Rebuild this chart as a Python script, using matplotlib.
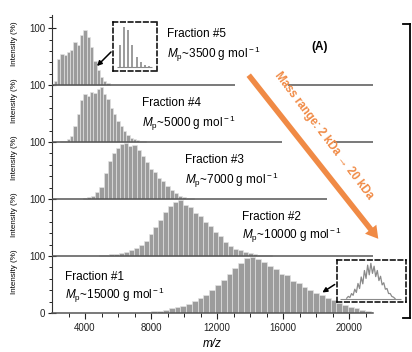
import numpy as np
import matplotlib
matplotlib.use("Agg")
import matplotlib.pyplot as plt
from matplotlib.patches import FancyArrowPatch
from matplotlib.lines import Line2D

plt.rcParams['font.family'] = ['Liberation Sans', 'DejaVu Sans']
plt.rcParams['mathtext.fontset'] = 'custom'
plt.rcParams['mathtext.rm'] = 'Liberation Sans'
plt.rcParams['mathtext.it'] = 'Liberation Sans:italic'

# spectra: start m/z, step, intensities (%)
f5_start, f5_step = 2200, 200
f5_int = [8, 45, 55, 53, 58, 62, 75, 70, 88, 97, 84, 66, 42, 26, 14, 8, 3]

f4_start, f4_step = 2600, 200
f4_int = [1, 2, 5, 11, 28, 50, 74, 85, 80, 88, 86, 94, 96, 84, 75, 60, 50, 37,
          29, 19, 12, 8, 5, 3, 2, 1]

f3_start, f3_step = 4000, 250
f3_int = [1, 3, 6, 12, 22, 46, 66, 80, 90, 96, 98, 93, 95, 86, 75, 65, 53, 47,
          37, 31, 23, 16, 10, 6, 4, 2, 1]

f2_start, f2_step = 5000, 300
f2_int = [2, 2, 3, 3, 5, 7, 10, 14, 19, 27, 38, 51, 64, 77, 88, 95, 98, 90, 86,
          76, 70, 60, 53, 42, 36, 25, 18, 13, 10, 7, 5, 3, 2, 1, 1]

f1_start, f1_step = 7500, 350
f1_int = [2, 2, 3, 4, 6, 8, 10, 12, 16, 21, 26, 32, 40, 50, 58, 69, 79, 88, 96,
          99, 95, 90, 82, 77, 69, 66, 57, 52, 45, 41, 35, 31, 26, 23, 18, 14, 11,
          8, 6, 4, 2]

fractions = ['Fraction #1', 'Fraction #2', 'Fraction #3', 'Fraction #4', 'Fraction #5']
mp_values = ['15000', '10000', '7000', '5000', '3500']

# zoomed insets
inset_top = [55, 100, 92, 55, 26, 14, 6, 3]
inset_bottom = [3, 8, 5, 16, 11, 28, 19, 44, 30, 62, 43, 80, 58, 95, 68, 100, 72,
                92, 63, 80, 52, 64, 40, 46, 28, 30, 16, 16, 8, 6, 2]

W, H = 412, 352


def fx(x):
    return x / W


def fy(y):
    return 1 - y / H


fig = plt.figure(figsize=(W / 100, H / 100), dpi=100)
ax = fig.add_axes([fx(52), fy(313), (373 - 52) / W, (313 - 15) / H])

spectra = [(f1_start, f1_step, f1_int), (f2_start, f2_step, f2_int),
           (f3_start, f3_step, f3_int), (f4_start, f4_step, f4_int),
           (f5_start, f5_step, f5_int)]
for i, (start, step, ints) in enumerate(spectra):
    mz = start + step * np.arange(len(ints))
    ax.bar(mz, np.array(ints) / 100, width=step, bottom=i, color='#9c9c9c',
           edgecolor='#e4e4e4', linewidth=0.45, align='center', zorder=2)

# panel baselines (broken where the orange arrow passes)
lc = '#555555'
ax.hlines(1, 2000, 21450, color=lc, lw=1.1, zorder=3)
ax.hlines(2, 2000, 18650, color=lc, lw=1.1, zorder=3)
ax.hlines(3, 2000, 15950, color=lc, lw=1.1, zorder=3)
ax.hlines(3, 19100, 21450, color=lc, lw=1.1, zorder=3)
ax.hlines(4, 2000, 13100, color=lc, lw=1.1, zorder=3)
ax.hlines(4, 16300, 21450, color=lc, lw=1.1, zorder=3)

ax.set_xlim(2000, 21450)
ax.set_ylim(0, 5.23)
ax.set_xticks([4000, 8000, 12000, 16000, 20000])
ax.set_xticks(np.arange(3000, 21001, 1000), minor=True)
ax.set_yticks([0, 1, 2, 3, 4, 5])
ax.set_yticklabels(['0', '100', '100', '100', '100', '100'])
ax.set_yticks(np.arange(0, 5.21, 0.2), minor=True)
ax.tick_params(axis='both', labelsize=7, colors='#222222')
ax.tick_params(axis='y', which='major', direction='inout', length=6, pad=2)
ax.tick_params(axis='y', which='minor', direction='out', length=2.5)
ax.tick_params(axis='x', which='major', direction='out', length=4, pad=3)
ax.tick_params(axis='x', which='minor', direction='out', length=3)
for s in ['top', 'right']:
    ax.spines[s].set_visible(False)
ax.spines['left'].set_color('#333333')
ax.spines['bottom'].set_color('#555555')
ax.spines['bottom'].set_linewidth(1.1)
ax.set_xlabel('m/z', fontsize=8.5, style='italic', labelpad=4)

for i in range(5):
    ax.text(-0.118, (i + 0.72) / 5.23, 'Intensity (%)', transform=ax.transAxes,
            rotation=90, ha='center', va='center', fontsize=5.8)

# labels
label_pos = [(65, 277, 295), (242, 217, 235), (185, 160, 180), (142, 103, 123), (167, 34, 54)]
for (x, y1, y2), name, mp in zip(label_pos, fractions, mp_values):
    fig.text(fx(x), fy(y1), name, fontsize=8.5, ha='left', va='center')
    fig.text(fx(x), fy(y2), r'$M_{\rm p}$~' + mp + r' g mol$^{\rm -1}$',
             fontsize=8.5, ha='left', va='center')

fig.text(fx(320), fy(47), '(A)', fontsize=8.5, weight='bold', ha='center', va='center')

# orange arrow with text
orange = '#f08a45'
fig.add_artist(FancyArrowPatch((fx(247), fy(73)), (fx(380), fy(241)),
                               transform=fig.transFigure, color=orange, lw=0,
                               arrowstyle='simple,head_width=1.3,head_length=1.1,tail_width=0.5',
                               mutation_scale=8))
fig.text(fx(324), fy(136), 'Mass range: 2 kDa \u2192 20 kDa', color=orange,
         fontsize=8.3, weight='bold', rotation=-53, rotation_mode='anchor',
         ha='center', va='center')

# insets
ins1 = fig.add_axes([fx(113), fy(71), 44 / W, 49 / H])
ins1.vlines(np.arange(len(inset_top)), 0, inset_top, color='#8a8a8a', lw=1.2)
ins1.hlines(0, -0.8, len(inset_top) - 0.2, color='#8a8a8a', lw=0.8)
ins1.set_xlim(-1.69, 8.93)
ins1.set_ylim(-9.2, 111.6)

ins2 = fig.add_axes([fx(336.7), fy(301.7), 69.3 / W, 41.7 / H])
ins2.plot(np.arange(len(inset_bottom)), inset_bottom, color='#8a8a8a', lw=0.9)
ins2.hlines(0, -4, len(inset_bottom) + 3, color='#8a8a8a', lw=0.8)
ins2.set_xlim(-6.2, 36.8)
ins2.set_ylim(-6.7, 109.2)

for a in (ins1, ins2):
    a.set_xticks([])
    a.set_yticks([])
    a.patch.set_alpha(0)
    for s in a.spines.values():
        s.set_linestyle((0, (3, 2)))
        s.set_linewidth(1.1)

# black pointer arrows
for start, end in [((113, 50), (95, 68)), ((337, 283), (320, 294))]:
    fig.add_artist(FancyArrowPatch((fx(start[0]), fy(start[1])), (fx(end[0]), fy(end[1])),
                                   transform=fig.transFigure, color='black', lw=1.1,
                                   arrowstyle='-|>', mutation_scale=7))

# right bracket
fig.add_artist(Line2D([fx(410), fx(410)], [fy(24), fy(318)], color='black', lw=1.3))
fig.add_artist(Line2D([fx(403), fx(410)], [fy(24), fy(24)], color='black', lw=1.3))
fig.add_artist(Line2D([fx(403), fx(410)], [fy(318), fy(318)], color='black', lw=1.3))

fig.savefig('out.png', dpi=100)
